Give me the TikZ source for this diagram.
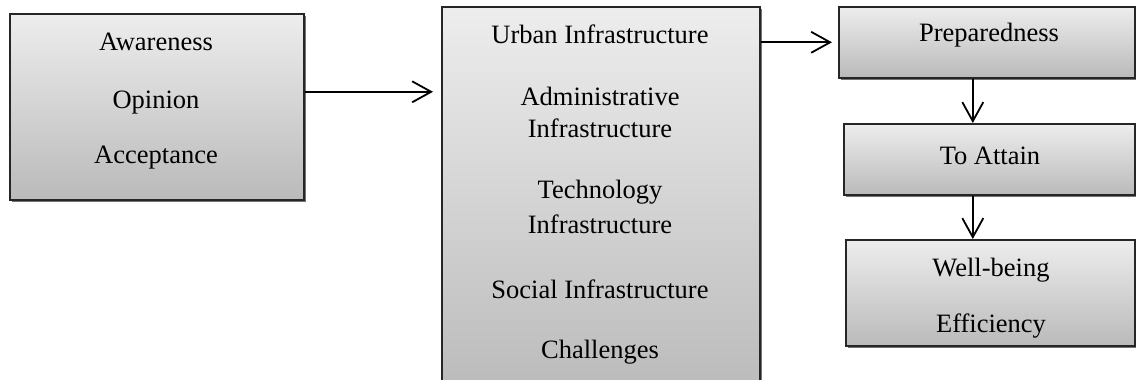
\documentclass[tikz,border=0pt]{standalone}
\usepackage{fontspec}
\setmainfont{Liberation Serif}
\usetikzlibrary{arrows.meta,shadows}
\begin{document}
\begin{tikzpicture}[x=1pt,y=-1pt,
  panel/.style={draw=black!85, line width=1.6pt, top color=black!7, bottom color=black!27,
    drop shadow={shadow xshift=2pt, shadow yshift=-2.5pt, fill=black!55, opacity=1},
    anchor=north west, inner sep=0pt},
  lbl/.style={anchor=base, font=\fontsize{26.5}{30}\selectfont, inner sep=0pt},
  link/.style={line width=1.8pt, -{Straight Barb[length=19pt,width=21pt]}}]
\path[use as bounding box] (0,0) rectangle (1136,380);
\clip (0,0) rectangle (1136,380);

% boxes
\node[panel, minimum width=294pt, minimum height=186pt] (aware) at (9,13) {};
\node[panel, minimum width=318pt, minimum height=390pt] (infra) at (441,6) {};
\node[panel, minimum width=296pt, minimum height=71pt] (prep) at (838,6) {};
\node[panel, minimum width=291pt, minimum height=71pt] (attain) at (843,123) {};
\node[panel, minimum width=289pt, minimum height=106pt] (well) at (845,239) {};

% texts
\node[lbl] (a1) at (156,50) {Awareness};
\node[lbl] (a2) at (156,108) {Opinion};
\node[lbl] (a3) at (156,163) {Acceptance};

\node[lbl] (i1) at (600,43) {Urban Infrastructure};
\node[lbl] (i2) at (600,105) {Administrative};
\node[lbl] (i3) at (600,137) {Infrastructure};
\node[lbl] (i4) at (600,198) {Technology};
\node[lbl] (i5) at (600,233) {Infrastructure};
\node[lbl] (i6) at (600,298) {Social Infrastructure};
\node[lbl] (i7) at (600,358) {Challenges};

\node[lbl] (p1) at (989,41) {Preparedness};
\node[lbl] (t1) at (990,164) {To Attain};
\node[lbl] (w1) at (991,276) {Well-being};
\node[lbl] (w2) at (991,332) {Efficiency};

% connectors
\draw[link, shorten >=8pt] ([yshift=15pt]aware.east) -- ([yshift=15pt]aware.east -| infra.west);
\draw[link, shorten >=6pt] (prep.west -| infra.east) -- (prep.west);
\draw[link] ([xshift=-14pt]prep.south) -- ([xshift=-14pt]prep.south |- attain.north);
\draw[link] ([xshift=-14pt]prep.south |- attain.south) -- ([xshift=-14pt]prep.south |- well.north);
\end{tikzpicture}
\end{document}
